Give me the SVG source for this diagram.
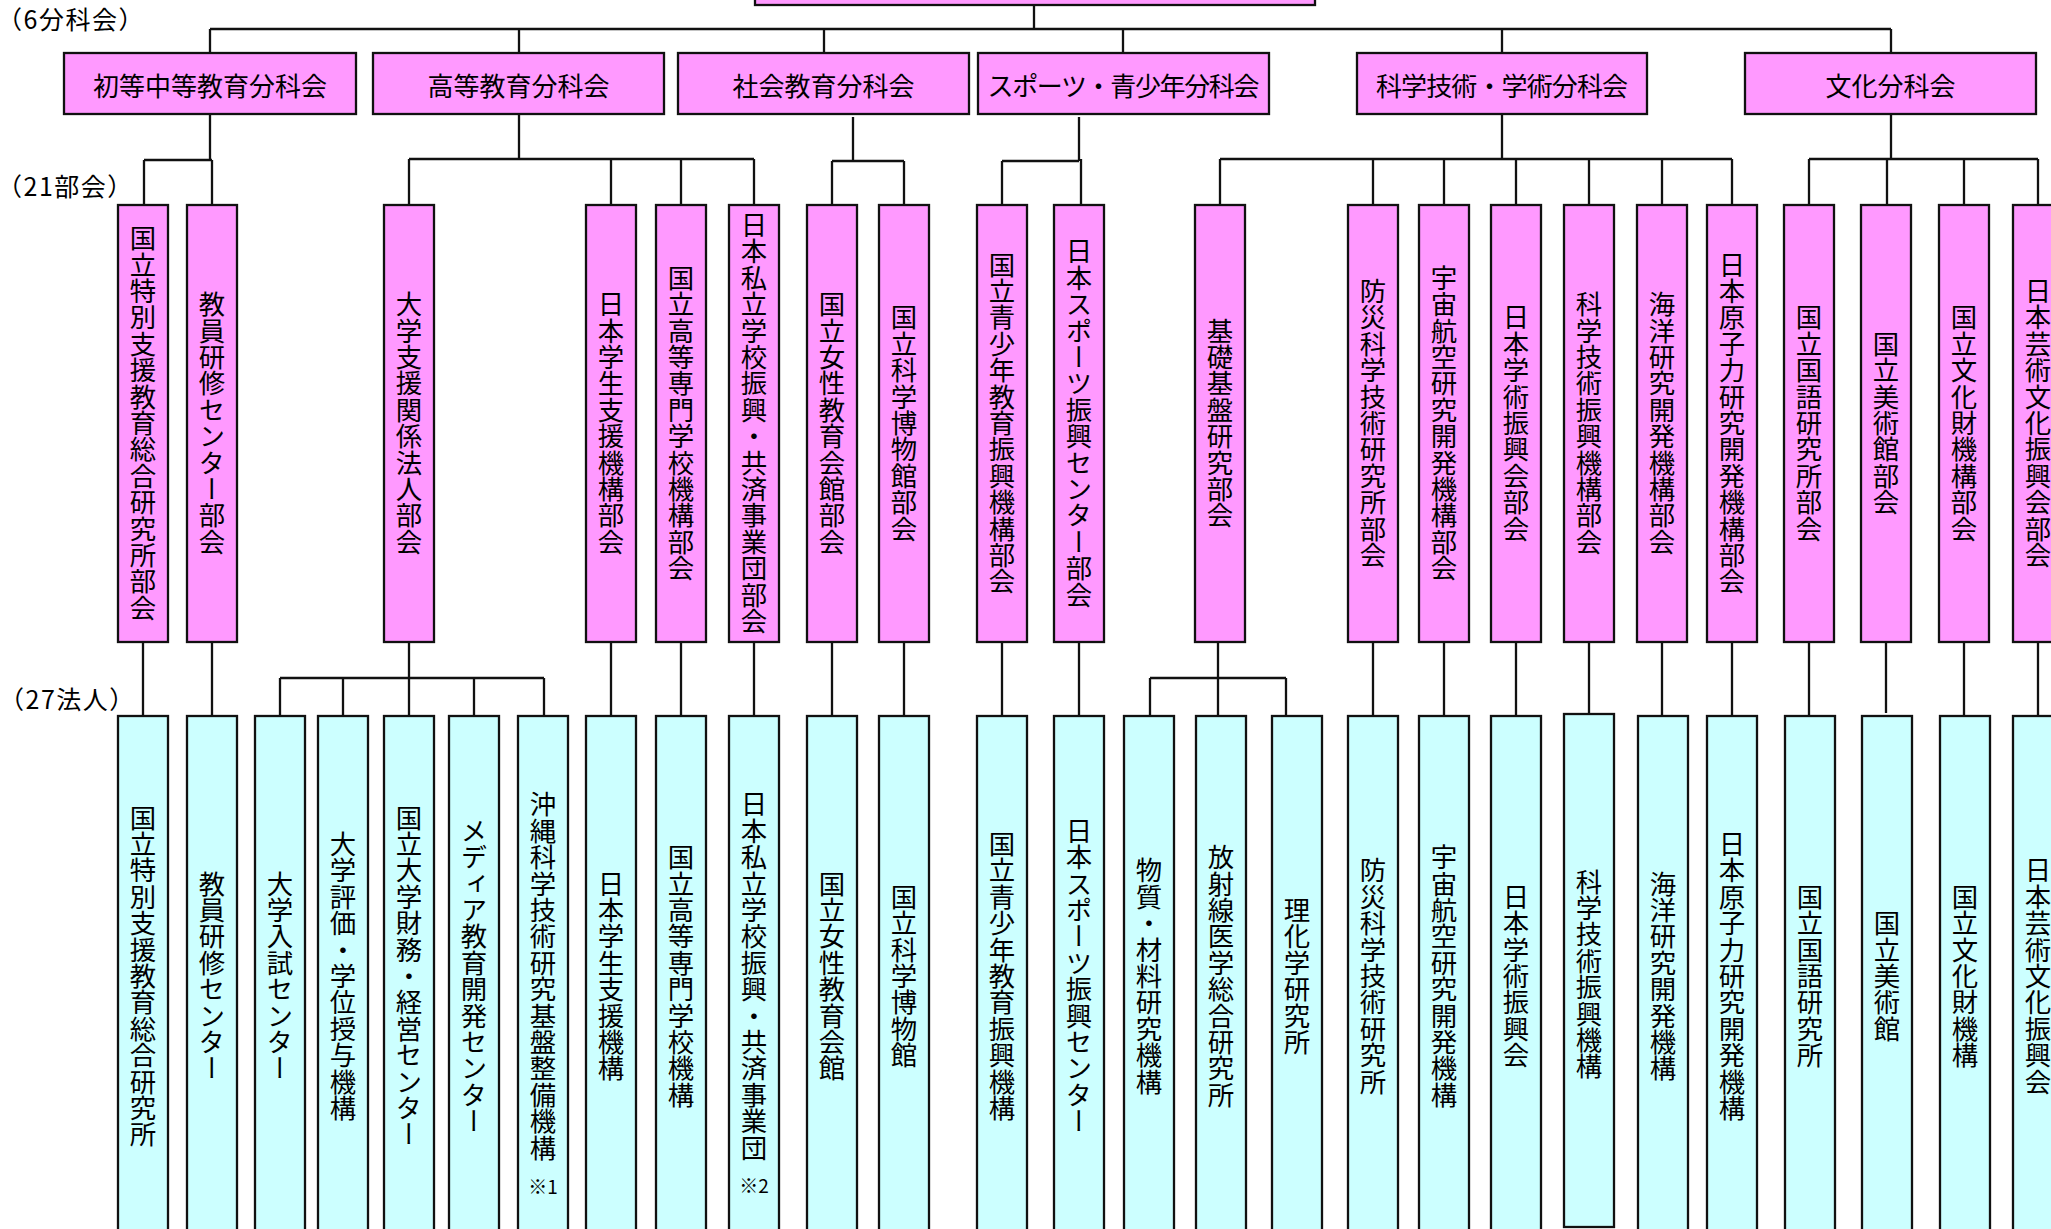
<svg xmlns="http://www.w3.org/2000/svg" width="2051" height="1229" viewBox="0 0 2051 1229">
<style>
text{font-family:"Noto Sans CJK JP","Noto Sans",sans-serif;fill:#000}
.p{fill:#FF99FF;stroke:#111;stroke-width:2.3}
.c{fill:#CCFFFF;stroke:#111;stroke-width:2.3}
.ln{fill:none;stroke:#111;stroke-width:2.3}
.h{font-size:26px;text-anchor:middle;dominant-baseline:central}
.v{font-size:26.4px;writing-mode:vertical-rl;text-anchor:middle}
.lab{font-size:25px;letter-spacing:1.5px}
.n{font-size:19px;text-anchor:middle;dominant-baseline:central}
</style>
<rect width="2051" height="1229" fill="#fff"/>
<g id="connectors" class="ln">
<path d="M1034 5V29M210 29H1891M210 29V53M519 29V53M824 29V53M1123 29V53M1502 29V53M1891 29V53"/>
<path d="M210 114V160M144 160H212M144 160V205M212 160V205"/>
<path d="M519 114V159M409 159H754M409 159V205M611 159V205M681 159V205M754 159V205"/>
<path d="M853 117V161M832 161H904M832 161V205M904 161V205"/>
<path d="M1079 117V161M1002 161H1079M1002 161V205M1081 159V205"/>
<path d="M1502 114V159M1220 159H1732M1220 159V205M1373 159V205M1444 159V205M1516 159V205M1589 159V205M1662 159V205M1732 159V205"/>
<path d="M1891 114V159M1809 159H2038M1809 159V205M1887 159V205M1964 159V205M2038 159V205"/>
<path d="M143 642V716M212 642V716M611 642V716M681 642V716M754 642V716M832 642V716M904 642V716M1002 642V716M1079 642V716M1373 642V716M1444 642V716M1516 642V716M1589 642V714M1662 642V716M1732 642V716M1809 642V716M1886 637V713M1964 642V716M2038 642V716"/>
<path d="M409 642V678M280 678H544M280 678V716M343 678V716M409 678V716M474 678V716M544 678V716"/>
<path d="M1218 642V678M1150 678H1286M1150 678V716M1218 678V716M1286 678V716"/>
</g>
<text class="lab" x="-3" y="29">（6分科会）</text>
<text class="lab" x="-3" y="196">（21部会）</text>
<text class="lab" x="-1" y="709">（27法人）</text>
<g id="top"><rect class="p" x="755" y="-30" width="560" height="35"/></g>
<g id="bunkakai">
<g id="b1"><rect class="p" x="64" y="53" width="292" height="61"/><text class="h" x="210" y="84">初等中等教育分科会</text></g>
<g id="b2"><rect class="p" x="373" y="53" width="291" height="61"/><text class="h" x="518.5" y="84">高等教育分科会</text></g>
<g id="b3"><rect class="p" x="678" y="53" width="291" height="61"/><text class="h" x="823.5" y="84">社会教育分科会</text></g>
<g id="b4"><rect class="p" x="978" y="53" width="291" height="61"/><text class="h" x="1123.5" y="84" textLength="272" lengthAdjust="spacing">スポーツ・青少年分科会</text></g>
<g id="b5"><rect class="p" x="1357" y="53" width="290" height="61"/><text class="h" x="1502" y="84" textLength="252" lengthAdjust="spacing">科学技術・学術分科会</text></g>
<g id="b6"><rect class="p" x="1745" y="53" width="291" height="61"/><text class="h" x="1890.5" y="84">文化分科会</text></g>
</g>
<g id="bukai">
<g id="k1"><rect class="p" x="118" y="205" width="50" height="437"/><text class="v" x="143" y="423">国立特別支援教育総合研究所部会</text></g>
<g id="k2"><rect class="p" x="187" y="205" width="50" height="437"/><text class="v" x="212" y="423">教員研修センター部会</text></g>
<g id="k3"><rect class="p" x="384" y="205" width="50" height="437"/><text class="v" x="409" y="423">大学支援関係法人部会</text></g>
<g id="k4"><rect class="p" x="586" y="205" width="50" height="437"/><text class="v" x="611" y="423">日本学生支援機構部会</text></g>
<g id="k5"><rect class="p" x="656" y="205" width="50" height="437"/><text class="v" x="681" y="423">国立高等専門学校機構部会</text></g>
<g id="k6"><rect class="p" x="729" y="205" width="50" height="437"/><text class="v" x="754" y="423">日本私立学校振興・共済事業団部会</text></g>
<g id="k7"><rect class="p" x="807" y="205" width="50" height="437"/><text class="v" x="832" y="423">国立女性教育会館部会</text></g>
<g id="k8"><rect class="p" x="879" y="205" width="50" height="437"/><text class="v" x="904" y="423">国立科学博物館部会</text></g>
<g id="k9"><rect class="p" x="977" y="205" width="50" height="437"/><text class="v" x="1002" y="423">国立青少年教育振興機構部会</text></g>
<g id="k10"><rect class="p" x="1054" y="205" width="50" height="437"/><text class="v" x="1079" y="423">日本スポーツ振興センター部会</text></g>
<g id="k11"><rect class="p" x="1195" y="205" width="50" height="437"/><text class="v" x="1220" y="423">基礎基盤研究部会</text></g>
<g id="k12"><rect class="p" x="1348" y="205" width="50" height="437"/><text class="v" x="1373" y="423">防災科学技術研究所部会</text></g>
<g id="k13"><rect class="p" x="1419" y="205" width="50" height="437"/><text class="v" x="1444" y="423">宇宙航空研究開発機構部会</text></g>
<g id="k14"><rect class="p" x="1491" y="205" width="50" height="437"/><text class="v" x="1516" y="423">日本学術振興会部会</text></g>
<g id="k15"><rect class="p" x="1564" y="205" width="50" height="437"/><text class="v" x="1589" y="423">科学技術振興機構部会</text></g>
<g id="k16"><rect class="p" x="1637" y="205" width="50" height="437"/><text class="v" x="1662" y="423">海洋研究開発機構部会</text></g>
<g id="k17"><rect class="p" x="1707" y="205" width="50" height="437"/><text class="v" x="1732" y="423">日本原子力研究開発機構部会</text></g>
<g id="k18"><rect class="p" x="1784" y="205" width="50" height="437"/><text class="v" x="1809" y="423">国立国語研究所部会</text></g>
<g id="k19"><rect class="p" x="1861" y="205" width="50" height="437"/><text class="v" x="1886" y="423">国立美術館部会</text></g>
<g id="k20"><rect class="p" x="1939" y="205" width="50" height="437"/><text class="v" x="1964" y="423">国立文化財機構部会</text></g>
<g id="k21"><rect class="p" x="2013" y="205" width="50" height="437"/><text class="v" x="2038" y="423">日本芸術文化振興会部会</text></g>
</g>
<g id="hojin">
<g id="h1"><rect class="c" x="118" y="716" width="50" height="520"/><text class="v" x="143" y="976">国立特別支援教育総合研究所</text></g>
<g id="h2"><rect class="c" x="187" y="716" width="50" height="520"/><text class="v" x="212" y="976">教員研修センター</text></g>
<g id="h3"><rect class="c" x="255" y="716" width="50" height="520"/><text class="v" x="280" y="976">大学入試センター</text></g>
<g id="h4"><rect class="c" x="318" y="716" width="50" height="520"/><text class="v" x="343" y="976">大学評価・学位授与機構</text></g>
<g id="h5"><rect class="c" x="384" y="716" width="50" height="520"/><text class="v" x="409" y="976">国立大学財務・経営センター</text></g>
<g id="h6"><rect class="c" x="449" y="716" width="50" height="520"/><text class="v" x="474" y="976">メディア教育開発センター</text></g>
<g id="h7"><rect class="c" x="518" y="716" width="50" height="520"/><text class="v" x="543" y="976">沖縄科学技術研究基盤整備機構</text><text class="n" x="543" y="1185">※1</text></g>
<g id="h8"><rect class="c" x="586" y="716" width="50" height="520"/><text class="v" x="611" y="976">日本学生支援機構</text></g>
<g id="h9"><rect class="c" x="656" y="716" width="50" height="520"/><text class="v" x="681" y="976">国立高等専門学校機構</text></g>
<g id="h10"><rect class="c" x="729" y="716" width="50" height="520"/><text class="v" x="754" y="976">日本私立学校振興・共済事業団</text><text class="n" x="754" y="1184">※2</text></g>
<g id="h11"><rect class="c" x="807" y="716" width="50" height="520"/><text class="v" x="832" y="976">国立女性教育会館</text></g>
<g id="h12"><rect class="c" x="879" y="716" width="50" height="520"/><text class="v" x="904" y="976">国立科学博物館</text></g>
<g id="h13"><rect class="c" x="977" y="716" width="50" height="520"/><text class="v" x="1002" y="976">国立青少年教育振興機構</text></g>
<g id="h14"><rect class="c" x="1054" y="716" width="50" height="520"/><text class="v" x="1079" y="976">日本スポーツ振興センター</text></g>
<g id="h15"><rect class="c" x="1124" y="716" width="50" height="520"/><text class="v" x="1149" y="976">物質・材料研究機構</text></g>
<g id="h16"><rect class="c" x="1196" y="716" width="50" height="520"/><text class="v" x="1221" y="976">放射線医学総合研究所</text></g>
<g id="h17"><rect class="c" x="1272" y="716" width="50" height="520"/><text class="v" x="1297" y="976">理化学研究所</text></g>
<g id="h18"><rect class="c" x="1348" y="716" width="50" height="520"/><text class="v" x="1373" y="976">防災科学技術研究所</text></g>
<g id="h19"><rect class="c" x="1419" y="716" width="50" height="520"/><text class="v" x="1444" y="976">宇宙航空研究開発機構</text></g>
<g id="h20"><rect class="c" x="1491" y="716" width="50" height="520"/><text class="v" x="1516" y="976">日本学術振興会</text></g>
<g id="h21"><rect class="c" x="1564" y="714" width="50" height="513"/><text class="v" x="1589" y="974">科学技術振興機構</text></g>
<g id="h22"><rect class="c" x="1638" y="716" width="50" height="520"/><text class="v" x="1663" y="976">海洋研究開発機構</text></g>
<g id="h23"><rect class="c" x="1707" y="716" width="50" height="520"/><text class="v" x="1732" y="976">日本原子力研究開発機構</text></g>
<g id="h24"><rect class="c" x="1785" y="716" width="50" height="520"/><text class="v" x="1810" y="976">国立国語研究所</text></g>
<g id="h25"><rect class="c" x="1862" y="716" width="50" height="520"/><text class="v" x="1887" y="976">国立美術館</text></g>
<g id="h26"><rect class="c" x="1940" y="716" width="50" height="520"/><text class="v" x="1965" y="976">国立文化財機構</text></g>
<g id="h27"><rect class="c" x="2013" y="716" width="50" height="520"/><text class="v" x="2038" y="976">日本芸術文化振興会</text></g>
</g>
</svg>
